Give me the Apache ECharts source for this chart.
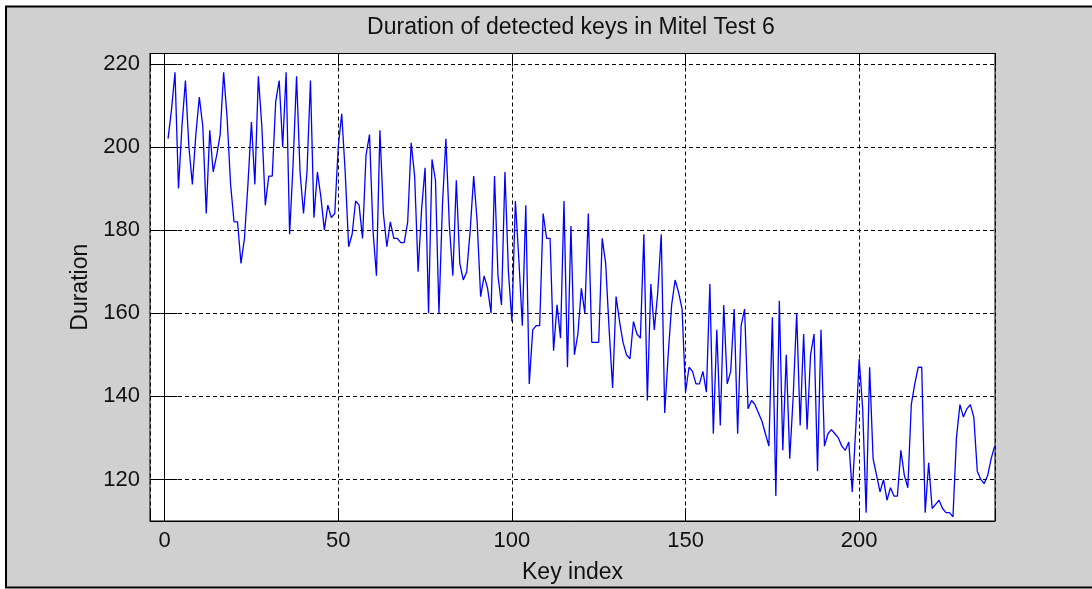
<!DOCTYPE html>
<html>
<head>
<meta charset="utf-8">
<script src="https://cdn.jsdelivr.net/npm/echarts@6/dist/echarts.min.js"></script>
<style>
html,body{margin:0;padding:0;background:#fff;}
#chart{width:1092px;height:589px;}
</style>
</head>
<body>
<div id="chart"></div>
<script>
// Chart text
const titleText = 'Duration of detected keys in Mitel Test 6';
const xLabel = 'Key index';
const yLabel = 'Duration';

// Axis ranges and tick steps
const xRange = [-4.2, 239.1];
const yRange = [110, 222.5];
const xTickStep = 50;
const yTickStep = 20;

// Durations of detected keys, key index 1..239
const durations = [
  202, 209, 218, 190, 205, 216, 200, 191, 203, 212,
  205, 184, 204, 194, 198, 203, 218, 207, 191, 182,
  182, 172, 178, 191, 206, 191, 217, 205, 186, 193,
  193, 211, 216, 200, 218, 179, 196, 217, 194, 184,
  194, 216, 183, 194, 188, 180, 186, 183, 184, 200,
  208, 194, 176, 179, 187, 186, 178, 198, 203, 180,
  169, 204, 184, 176, 182, 178, 178, 177, 177, 182,
  201, 193, 170, 185, 195, 160, 197, 192, 160, 186,
  202, 181, 169, 192, 172, 168, 170, 180, 193, 182,
  164, 169, 166, 160, 193, 169, 162, 194, 170, 158,
  187, 173, 157, 186, 143, 156, 157, 157, 184, 178,
  178, 151, 162, 154, 187, 147, 181, 150, 155, 166,
  160, 184, 153, 153, 153, 178, 172, 156, 142, 164,
  158, 153, 150, 149, 158, 155, 154, 179, 139, 167,
  156, 165, 179, 136, 150, 162, 168, 165, 161, 141,
  147, 146, 143, 143, 146, 141, 167, 131, 156, 133,
  162, 143, 146, 161, 131, 157, 161, 137, 139, 138,
  136, 134, 131, 128, 159, 116, 163, 127, 150, 125,
  140, 160, 133, 155, 132, 150, 155, 122, 156, 128,
  131, 132, 131, 130, 128, 127, 129, 117, 132, 149,
  137, 112, 147, 125, 121, 117, 120, 115, 118, 116,
  116, 127, 121, 118, 138, 143, 147, 147, 112, 124,
  113, 114, 115, 113, 112, 112, 111, 130, 138, 135,
  137, 138, 135, 122, 120, 119, 121, 125, 128
];

const seriesData = durations.map((v, i) => [i + 1, v]);

const FONT = 'Liberation Sans, Arial, sans-serif';
const chart = echarts.init(document.getElementById('chart'));

const gridDash = {show: true, lineStyle: {color: '#000', width: 1, type: [4, 3]}};
const tickIn = {show: true, inside: true, length: 13, lineStyle: {color: '#000', width: 1}};
const lineBlack = {show: true, lineStyle: {color: '#000', width: 1}};

chart.setOption({
  animation: false,
  backgroundColor: '#ffffff',
  graphic: [{
    type: 'rect',
    z: -100,
    shape: {x: 6, y: 6.5, width: 1100, height: 581},
    style: {fill: '#d0d0d0', stroke: '#000', lineWidth: 2}
  }],
  title: {
    text: titleText,
    left: 566,
    top: 11,
    textAlign: 'center',
    textStyle: {fontFamily: FONT, fontSize: 23, fontWeight: 'normal', color: '#111'}
  },
  grid: {
    left: 150, top: 53.5, width: 845, height: 468,
    show: true, backgroundColor: '#ffffff', borderColor: '#000', borderWidth: 1
  },
  xAxis: [{
    type: 'value', position: 'bottom',
    min: xRange[0], max: xRange[1], splitNumber: 5,
    axisLine: lineBlack, axisTick: tickIn, splitLine: gridDash,
    axisLabel: {
      margin: 9, color: '#111', fontFamily: FONT, fontSize: 22,
      formatter: v => (Math.abs(v % xTickStep) < 1e-9 ? String(v) : '')
    },
    name: xLabel, nameLocation: 'middle', nameGap: 40,
    nameTextStyle: {fontFamily: FONT, fontSize: 23, color: '#111'}
  }, {
    type: 'value', position: 'top',
    min: xRange[0], max: xRange[1], splitNumber: 5,
    axisLine: lineBlack, axisTick: tickIn, splitLine: {show: false},
    axisLabel: {show: false}
  }],
  yAxis: [{
    type: 'value', position: 'left',
    min: yRange[0], max: yRange[1], splitNumber: 5,
    axisLine: lineBlack, axisTick: tickIn, splitLine: gridDash,
    axisLabel: {
      margin: 10, color: '#111', fontFamily: FONT, fontSize: 22,
      formatter: v => (Math.abs(v % yTickStep) < 1e-9 ? String(v) : '')
    },
    name: yLabel, nameLocation: 'middle', nameGap: 58,
    nameTextStyle: {fontFamily: FONT, fontSize: 23, color: '#111'}
  }, {
    type: 'value', position: 'right',
    min: yRange[0], max: yRange[1], splitNumber: 5,
    axisLine: lineBlack, axisTick: tickIn, splitLine: {show: false},
    axisLabel: {show: false}
  }],
  series: [{
    type: 'line',
    data: seriesData,
    xAxisIndex: 0, yAxisIndex: 0,
    showSymbol: false,
    symbol: 'none',
    clip: true,
    lineStyle: {color: '#0000ff', width: 1.3},
    z: 5
  }]
});
</script>
</body>
</html>
